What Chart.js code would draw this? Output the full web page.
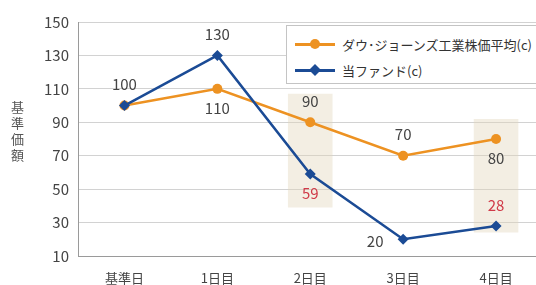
<!DOCTYPE html>
<html lang="ja">
<head>
<meta charset="UTF-8" />
<title>基準価額</title>
<script src="https://cdn.jsdelivr.net/npm/chart.js"></script>
<style>
  html, body { margin: 0; padding: 0; background: #fff; overflow: hidden; }
  body { width: 536px; height: 285px; position: relative; font-family: "Noto Sans CJK JP", "Noto Sans", sans-serif; }
  #wrap { position: absolute; left: 0; top: 0; width: 548px; height: 285px; }
  #ytitle { position: absolute; left: 8px; top: 101px; writing-mode: vertical-rl; text-orientation: upright;
            font-size: 13px; color: #555; letter-spacing: 3px; }
  #legend { position: absolute; left: 286px; top: 25px; width: 270px; height: 59px; background: #fff;
            border: 1px solid #c4c4c4; box-sizing: border-box; }
  .row { position: absolute; left: 8px; height: 20px; display: flex; align-items: center; font-size: 13px; color: #333; }
  .sym { position: relative; width: 40px; height: 20px; margin-right: 7px; }
  .sym .ln { position: absolute; left: 0; top: 9px; width: 40px; height: 3px; }
  .sym .mk { position: absolute; left: 15px; top: 5px; width: 10px; height: 10px; }
</style>
</head>
<body>
<div id="wrap"><canvas id="chart" width="548" height="285"></canvas></div>
<div id="ytitle">基準価額</div>
<div id="legend"></div>

<script>
// データ
const labels = ['基準日', '1日目', '2日目', '3日目', '4日目'];
const dowValues = [100, 110, 90, 70, 80];
const fundValues = [100, 130, 59, 20, 28];
// 強調の帯 (下限, 上限)
const bandLow  = [null, null, 39, null, 24];
const bandHigh = [null, null, 107, null, 92];
const yTicks = [10, 30, 50, 70, 90, 110, 130, 150];

const dowName = 'ダウ･ジョーンズ工業株価平均(c)';
const fundName = '当ファンド(c)';
const orange = '#ED9222';
const blue = '#1B4B95';

// 凡例
const legend = document.getElementById('legend');
[[dowName, orange, '50%', 8], [fundName, blue, '0', 34]].forEach(function (l) {
  const row = document.createElement('div');
  row.className = 'row';
  row.style.top = l[3] + 'px';
  row.innerHTML = '<div class="sym"><div class="ln" style="background:' + l[1] + '"></div>' +
    '<div class="mk" style="background:' + l[1] + ';border-radius:' + l[2] +
    (l[2] === '0' ? ';transform:rotate(45deg) scale(0.85)' : '') + '"></div></div>' + l[0];
  legend.appendChild(row);
});

// 数値ラベル
const labelCfg = {
  0: { pos: ['', 'below', 'above', 'above', 'below'], color: ['#444', '#444', '#444', '#444', '#444'] },
  1: { pos: ['above', 'above', 'below', 'left', 'above'], color: ['#444', '#444', '#d03a48', '#444', '#d03a48'] }
};
const valueLabels = {
  id: 'valueLabels',
  afterDatasetsDraw(chart) {
    const ctx = chart.ctx;
    ctx.save();
    ctx.font = '15px "Noto Sans CJK JP", "Noto Sans", sans-serif';
    ctx.textAlign = 'center';
    ctx.textBaseline = 'middle';
    [0, 1].forEach(function (di) {
      const meta = chart.getDatasetMeta(di);
      const vals = chart.data.datasets[di].data;
      meta.data.forEach(function (pt, i) {
        const p = labelCfg[di].pos[i];
        if (!p) return;
        let x = pt.x, y = pt.y;
        if (p === 'above') y -= 21;
        if (p === 'below') y += 19;
        if (p === 'left') { x -= 28; y += 2; }
        ctx.fillStyle = labelCfg[di].color[i];
        ctx.fillText(String(vals[i]), x, y);
      });
    });
    ctx.restore();
  }
};

new Chart(document.getElementById('chart'), {
  type: 'line',
  data: {
    labels: labels,
    datasets: [
      {
        label: dowName, data: dowValues, borderColor: orange, backgroundColor: orange,
        borderWidth: 2.5, pointStyle: 'circle', pointRadius: 5, pointBorderWidth: 0, order: 1, tension: 0
      },
      {
        label: fundName, data: fundValues, borderColor: blue, backgroundColor: blue,
        borderWidth: 2.5, pointStyle: 'rectRot', pointRadius: 5.5, pointBorderWidth: 0, order: 0, tension: 0
      },
      {
        type: 'bar', label: 'band',
        data: bandLow.map(function (lo, i) { return lo === null ? null : [lo, bandHigh[i]]; }),
        backgroundColor: 'rgba(226, 212, 186, 0.4)', borderWidth: 0,
        categoryPercentage: 1, barPercentage: 0.48, order: 5
      }
    ]
  },
  options: {
    responsive: false,
    animation: false,
    layout: { padding: { top: 22, right: 2, left: 0, bottom: 0 } },
    plugins: { legend: { display: false }, tooltip: { enabled: false } },
    scales: {
      x: {
        offset: true,
        grid: { display: false },
        border: { display: true, color: '#9a9a9a', width: 1 },
        ticks: { color: '#444', font: { size: 13, family: '"Noto Sans CJK JP", sans-serif' }, padding: 6, maxRotation: 0 },
        afterFit: function (s) { s.height = 29; }
      },
      y: {
        min: 10, max: 150,
        afterBuildTicks: function (s) { s.ticks = yTicks.map(function (v) { return { value: v }; }); },
        grid: { color: '#d2d2d2', drawTicks: false },
        border: { display: true, color: '#9a9a9a', width: 1 },
        ticks: { color: '#444', font: { size: 15, family: '"Noto Sans CJK JP", sans-serif' }, padding: 9 },
        afterFit: function (s) { s.width = 78; }
      }
    }
  },
  plugins: [valueLabels]
});
</script>
</body>
</html>
